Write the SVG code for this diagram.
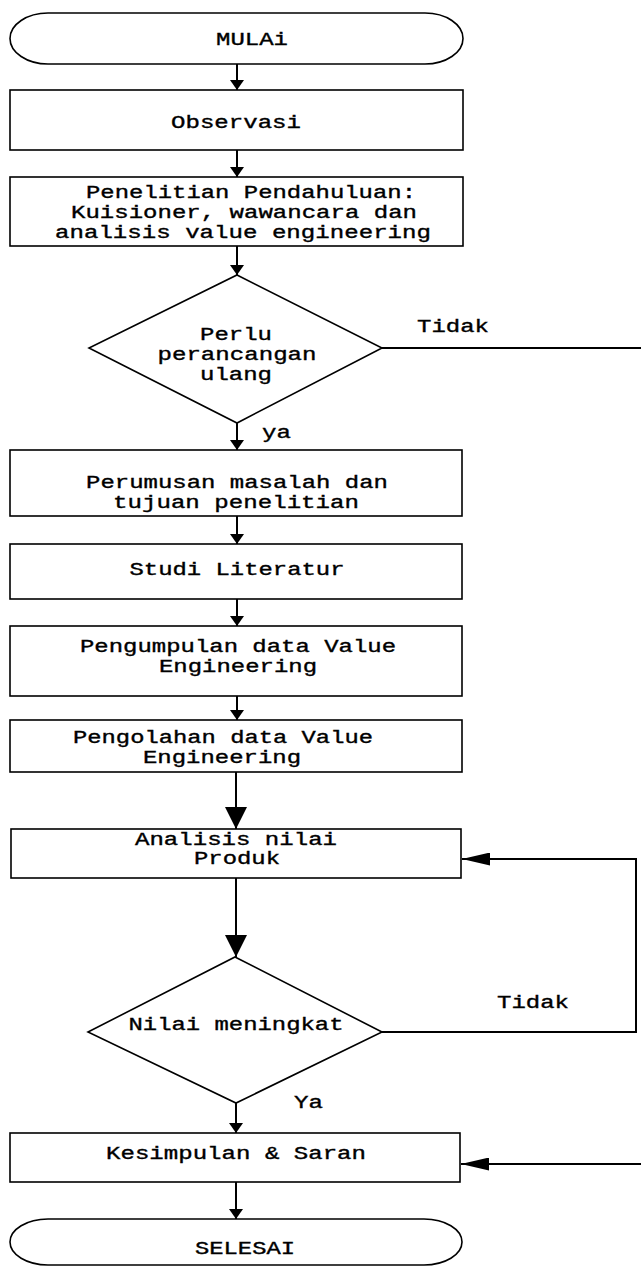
<svg xmlns="http://www.w3.org/2000/svg" width="641" height="1267" viewBox="0 0 641 1267">
<style>
.s{fill:#fff;stroke:#000;stroke-width:1.6}
.t{font-family:"Liberation Mono","Courier New",monospace;font-size:18px;fill:#000;stroke:#000;stroke-width:0.35;text-anchor:middle}
.l{font-family:"Liberation Mono","Courier New",monospace;font-size:18px;fill:#000;stroke:#000;stroke-width:0.35;text-anchor:start}
.c{fill:none;stroke:#000;stroke-width:2}
</style>
<defs>
<marker id="a" viewBox="0 0 10 14" refX="10" refY="7" markerWidth="10" markerHeight="14" markerUnits="userSpaceOnUse" orient="auto"><path d="M0,0 L10,7 L0,14 z" fill="#000"/></marker>
<marker id="b" viewBox="0 0 22 22" refX="22" refY="11" markerWidth="22" markerHeight="22" markerUnits="userSpaceOnUse" orient="auto"><path d="M0,0 L22,11 L0,22 z" fill="#000"/></marker>
<marker id="h" viewBox="0 0 28 13" refX="28" refY="6.5" markerWidth="28" markerHeight="13" markerUnits="userSpaceOnUse" orient="auto"><path d="M0,0 L28,6.5 L0,13 z" fill="#000"/></marker>
</defs>
<g id="connectors">
<line class="c" x1="237" y1="64" x2="237" y2="90" marker-end="url(#a)"/>
<line class="c" x1="237" y1="150" x2="237" y2="177" marker-end="url(#a)"/>
<line class="c" x1="237" y1="246" x2="237" y2="275" marker-end="url(#a)"/>
<line class="c" x1="382" y1="348" x2="641" y2="348"/>
<line class="c" x1="237" y1="423" x2="237" y2="450" marker-end="url(#a)"/>
<line class="c" x1="237" y1="516" x2="237" y2="544" marker-end="url(#a)"/>
<line class="c" x1="237" y1="599" x2="237" y2="626" marker-end="url(#a)"/>
<line class="c" x1="237" y1="696" x2="237" y2="720" marker-end="url(#a)"/>
<line class="c" x1="236" y1="772" x2="236" y2="829" marker-end="url(#b)"/>
<line class="c" x1="236" y1="878" x2="236" y2="957" marker-end="url(#b)"/>
<polyline class="c" points="382,1032 636,1032 636,859 462,859" marker-end="url(#h)"/>
<line class="c" x1="236" y1="1103" x2="236" y2="1133" marker-end="url(#a)"/>
<line class="c" x1="641" y1="1164" x2="461" y2="1164" marker-end="url(#h)"/>
<line class="c" x1="236" y1="1182" x2="236" y2="1219" marker-end="url(#a)"/>
<text class="l" x="417" y="332" textLength="72" lengthAdjust="spacingAndGlyphs">Tidak</text>
<text class="l" x="262" y="438" textLength="29" lengthAdjust="spacingAndGlyphs">ya</text>
<text class="l" x="497" y="1008" textLength="72" lengthAdjust="spacingAndGlyphs">Tidak</text>
<text class="l" x="294" y="1108" textLength="29" lengthAdjust="spacingAndGlyphs">Ya</text>
</g>
<g id="mulai">
<rect class="s" x="10" y="13" width="453" height="51" rx="38" ry="25.5"/>
<text class="t" x="252" y="45" textLength="72" lengthAdjust="spacingAndGlyphs">MULAi</text>
</g>
<g id="observasi">
<rect class="s" x="10" y="90" width="453" height="60"/>
<text class="t" x="236" y="128" textLength="130" lengthAdjust="spacingAndGlyphs">Observasi</text>
</g>
<g id="penelitian">
<rect class="s" x="10" y="177" width="453" height="69"/>
<text class="t" x="251" y="198" textLength="330" lengthAdjust="spacingAndGlyphs">Penelitian Pendahuluan:</text>
<text class="t" x="244" y="218" textLength="346" lengthAdjust="spacingAndGlyphs">Kuisioner, wawancara dan</text>
<text class="t" x="243" y="238" textLength="376" lengthAdjust="spacingAndGlyphs">analisis value engineering</text>
</g>
<g id="keputusan1">
<polygon class="s" points="237,275 382,348 237,423 89,348"/>
<text class="t" x="236" y="340" textLength="72" lengthAdjust="spacingAndGlyphs">Perlu</text>
<text class="t" x="237" y="360" textLength="159" lengthAdjust="spacingAndGlyphs">perancangan</text>
<text class="t" x="236" y="380" textLength="72" lengthAdjust="spacingAndGlyphs">ulang</text>
</g>
<g id="perumusan">
<rect class="s" x="10" y="450" width="452" height="66"/>
<text class="t" x="237" y="488" textLength="302" lengthAdjust="spacingAndGlyphs">Perumusan masalah dan</text>
<text class="t" x="236" y="508" textLength="246" lengthAdjust="spacingAndGlyphs">tujuan penelitian</text>
</g>
<g id="studi">
<rect class="s" x="10" y="544" width="452" height="55"/>
<text class="t" x="237" y="575" textLength="215" lengthAdjust="spacingAndGlyphs">Studi Literatur</text>
</g>
<g id="pengumpulan">
<rect class="s" x="10" y="626" width="452" height="70"/>
<text class="t" x="238" y="652" textLength="316" lengthAdjust="spacingAndGlyphs">Pengumpulan data Value</text>
<text class="t" x="238" y="672" textLength="158" lengthAdjust="spacingAndGlyphs">Engineering</text>
</g>
<g id="pengolahan">
<rect class="s" x="10" y="720" width="452" height="52"/>
<text class="t" x="223" y="743" textLength="300" lengthAdjust="spacingAndGlyphs">Pengolahan data Value</text>
<text class="t" x="222" y="763" textLength="158" lengthAdjust="spacingAndGlyphs">Engineering</text>
</g>
<g id="analisis">
<rect class="s" x="11" y="829" width="450" height="49"/>
<text class="t" x="236" y="845" textLength="202" lengthAdjust="spacingAndGlyphs">Analisis nilai</text>
<text class="t" x="237" y="864" textLength="86" lengthAdjust="spacingAndGlyphs">Produk</text>
</g>
<g id="keputusan2">
<polygon class="s" points="235,957 382,1032 236,1103 88,1032"/>
<text class="t" x="236" y="1030" textLength="215" lengthAdjust="spacingAndGlyphs">Nilai meningkat</text>
</g>
<g id="kesimpulan">
<rect class="s" x="10" y="1133" width="450" height="49"/>
<text class="t" x="236" y="1159" textLength="260" lengthAdjust="spacingAndGlyphs">Kesimpulan &amp; Saran</text>
</g>
<g id="selesai">
<rect class="s" x="10" y="1219" width="452" height="46" rx="38" ry="23"/>
<text class="t" x="245" y="1254" textLength="100" lengthAdjust="spacingAndGlyphs">SELESAI</text>
</g>
</svg>
